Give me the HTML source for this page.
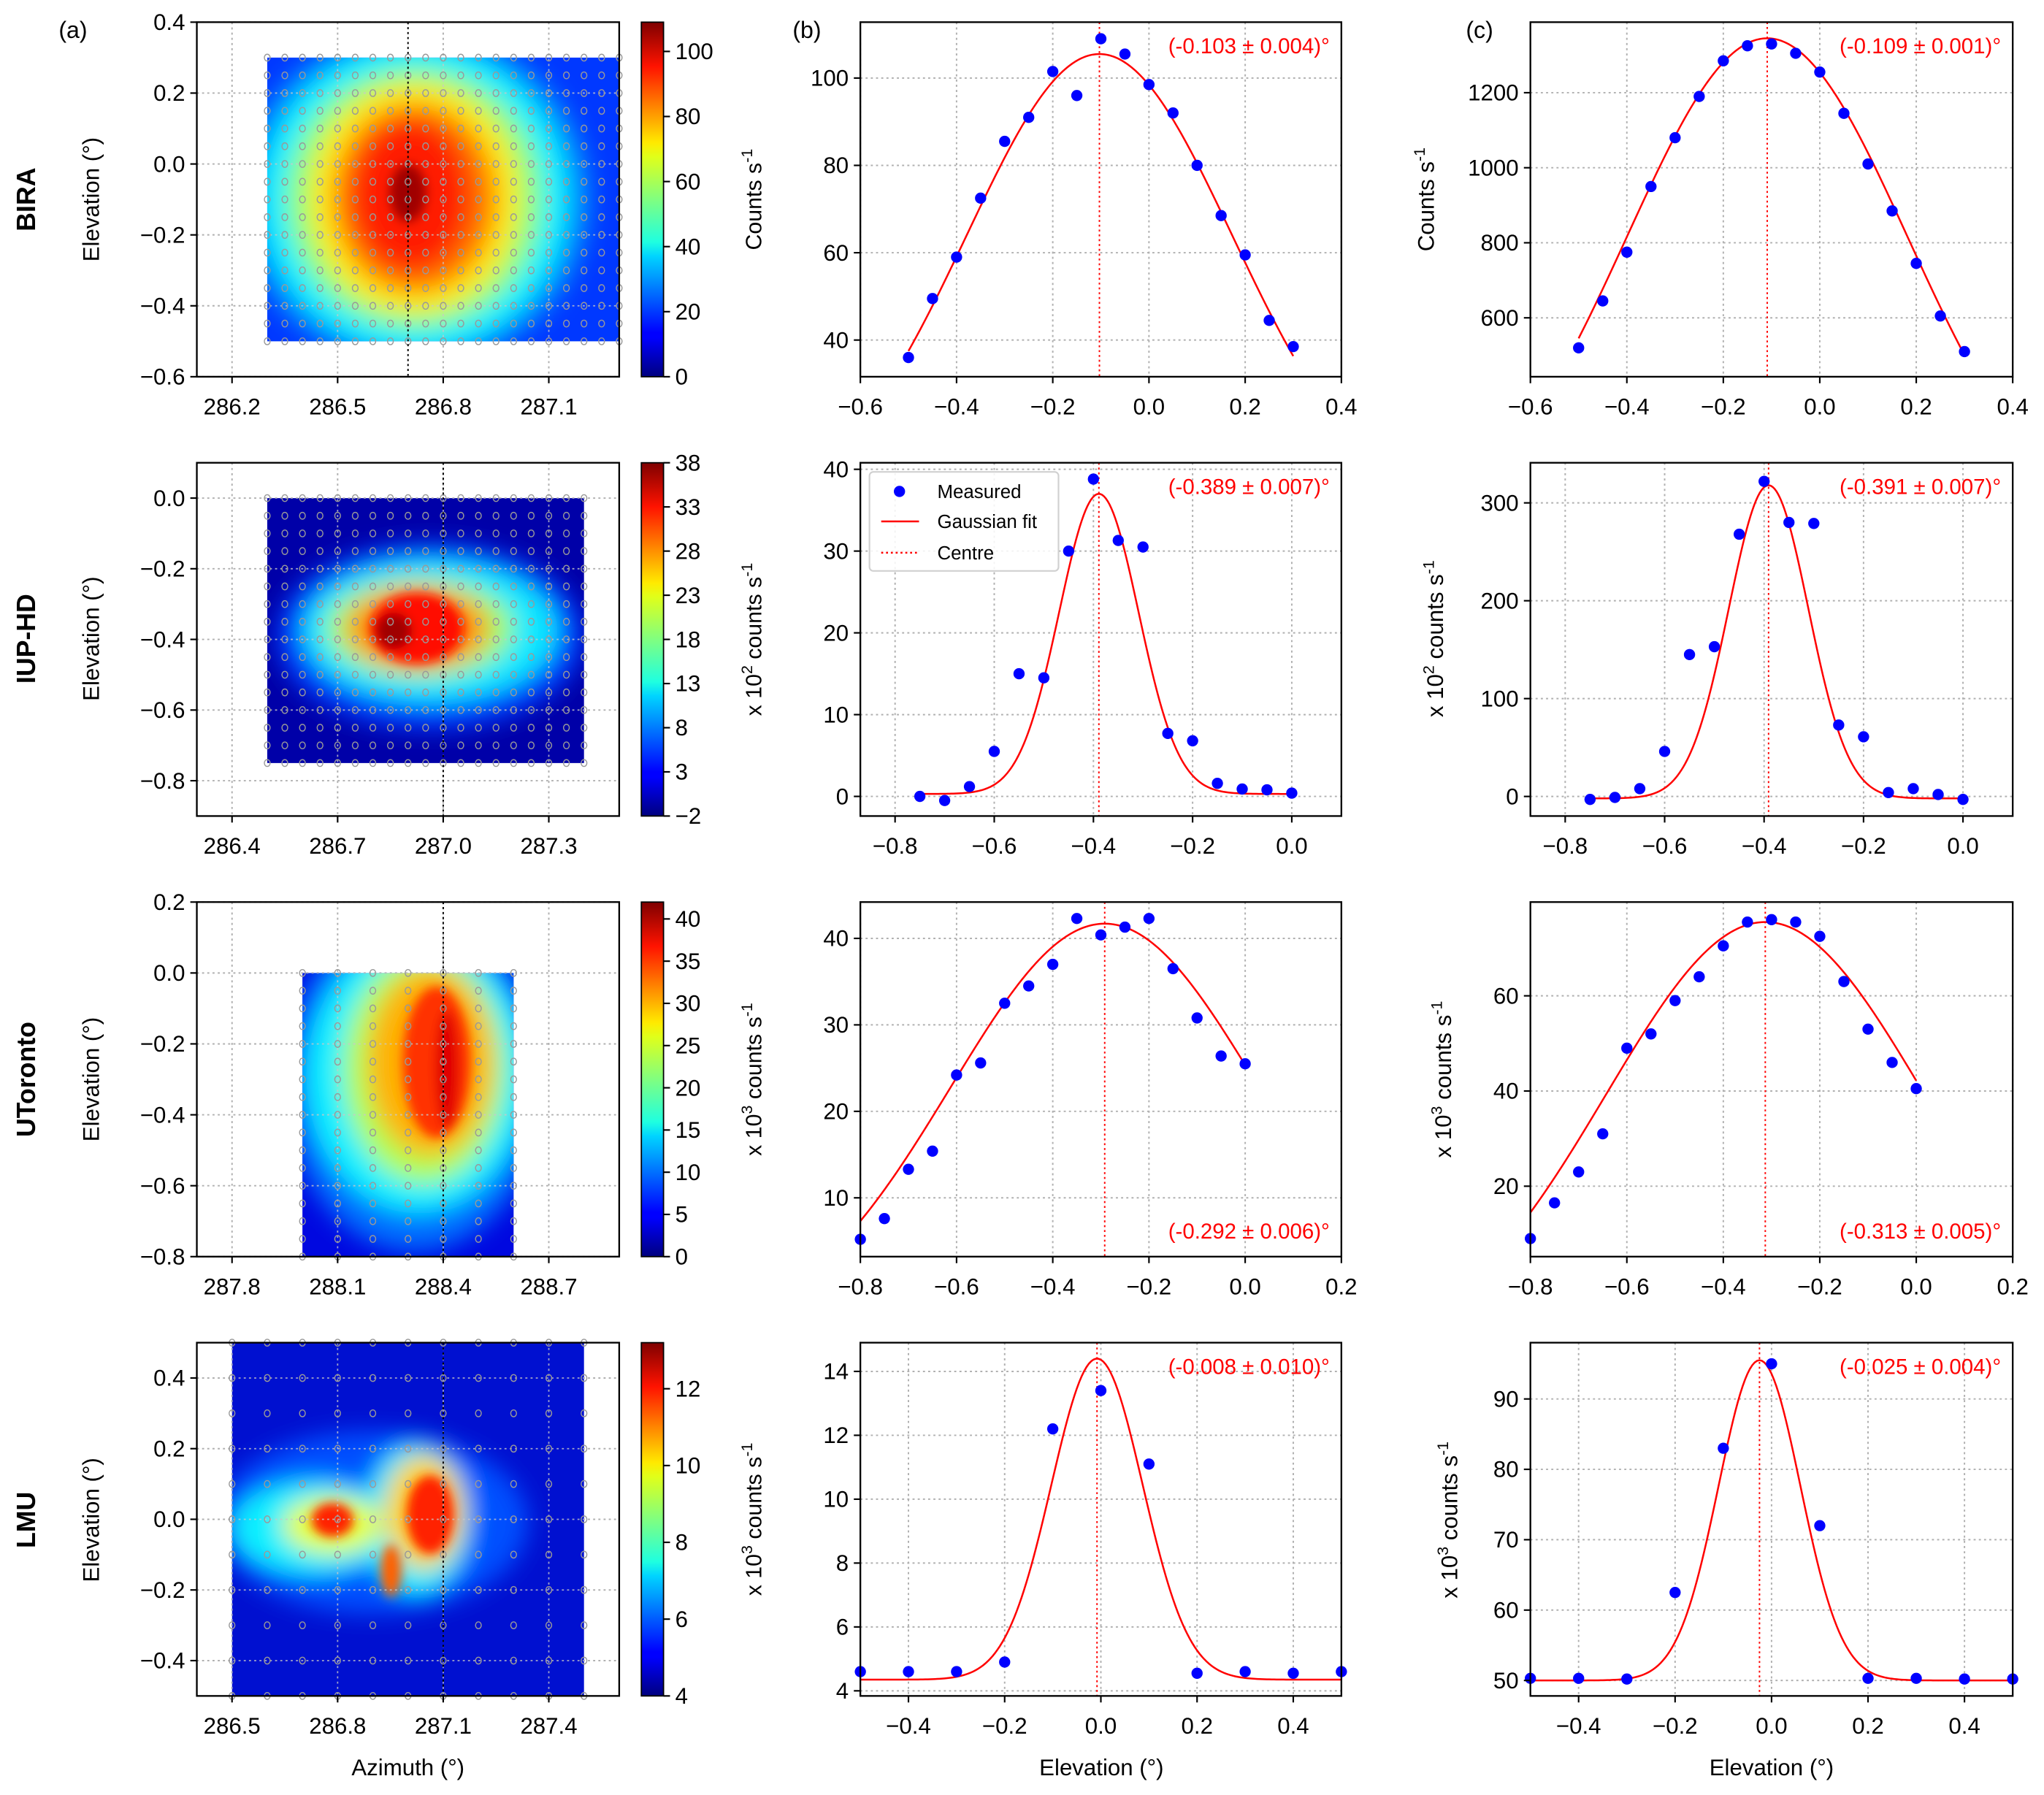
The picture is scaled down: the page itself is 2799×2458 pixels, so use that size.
<!DOCTYPE html>
<html><head><meta charset="utf-8">
<style>
html,body{margin:0;padding:0;background:#fff;}
svg{display:block;font-family:"Liberation Sans",Arial,sans-serif;}
</style></head>
<body>
<svg id="fig" width="2799" height="2458" viewBox="0 0 1568 1377" preserveAspectRatio="none" xmlns="http://www.w3.org/2000/svg">
<defs>
<linearGradient id="jet" x1="0" y1="1" x2="0" y2="0">
<stop offset="0" stop-color="#00007f"/><stop offset="0.11" stop-color="#0000ff"/>
<stop offset="0.125" stop-color="#0000ff"/><stop offset="0.34" stop-color="#00d4ff"/>
<stop offset="0.38" stop-color="#1fffe0"/><stop offset="0.5" stop-color="#80ff80"/>
<stop offset="0.62" stop-color="#e0ff1a"/><stop offset="0.66" stop-color="#ffea00"/>
<stop offset="0.875" stop-color="#ff1300"/><stop offset="1" stop-color="#7f0000"/>
</linearGradient>
<filter id="blur" x="-50%" y="-50%" width="200%" height="200%"><feGaussianBlur stdDeviation="9"/></filter>
<filter id="blur2" x="-50%" y="-50%" width="200%" height="200%"><feGaussianBlur stdDeviation="4"/></filter>
</defs>
</svg>
<script>
// ---------- data ----------
const b1X=[-0.5,-0.45,-0.4,-0.35,-0.3,-0.25,-0.2,-0.15,-0.1,-0.05,0,0.05,0.1,0.15,0.2,0.25,0.3];
const b1Y=[36,49.5,59,72.5,85.5,91,101.5,96,109,105.5,98.5,92,80,68.5,59.5,44.5,38.5];
const b1Fit=[105.5,-0.103,0.276,0];
const c1X=[-0.5,-0.45,-0.4,-0.35,-0.3,-0.25,-0.2,-0.15,-0.1,-0.05,0,0.05,0.1,0.15,0.2,0.25,0.3];
const c1Y=[520,645,775,950,1080,1190,1285,1325,1330,1305,1255,1145,1010,885,745,605,510];
const c1Fit=[1345,-0.109,0.291,0];
const b2X=[-0.75,-0.7,-0.65,-0.6,-0.55,-0.5,-0.45,-0.4,-0.35,-0.3,-0.25,-0.2,-0.15,-0.1,-0.05,0];
const b2Y=[0,-0.5,1.2,5.5,15,14.5,30,38.8,31.3,30.5,7.7,6.8,1.6,0.9,0.8,0.4];
const b2Fit=[36.7,-0.389,0.08,0.3];
const c2X=[-0.75,-0.7,-0.65,-0.6,-0.55,-0.5,-0.45,-0.4,-0.35,-0.3,-0.25,-0.2,-0.15,-0.1,-0.05,0];
const c2Y=[-3,-1,8,46,145,153,268,322,280,279,73,61,4,8,2,-3];
const c2Fit=[320,-0.391,0.08,-2];
const b3X=[-0.8,-0.75,-0.7,-0.65,-0.6,-0.55,-0.5,-0.45,-0.4,-0.35,-0.3,-0.25,-0.2,-0.15,-0.1,-0.05,0];
const b3Y=[5.2,7.6,13.3,15.4,24.2,25.6,32.5,34.5,37,42.3,40.4,41.3,42.3,36.5,30.8,26.4,25.5];
const b3Fit=[48,-0.292,0.32,-6.3];
const c3X=[-0.8,-0.75,-0.7,-0.65,-0.6,-0.55,-0.5,-0.45,-0.4,-0.35,-0.3,-0.25,-0.2,-0.15,-0.1,-0.05,0];
const c3Y=[9,16.5,23,31,49,52,59,64,70.5,75.5,76,75.5,72.5,63,53,46,40.5];
const c3Fit=[92,-0.313,0.33,-16.5];
const b4X=[-0.5,-0.4,-0.3,-0.2,-0.1,0,0.1,0.2,0.3,0.4,0.5];
const b4Y=[4.6,4.6,4.6,4.9,12.2,13.4,11.1,4.55,4.6,4.55,4.6];
const b4Fit=[10.05,-0.008,0.095,4.35];
const c4X=[-0.5,-0.4,-0.3,-0.2,-0.1,0,0.1,0.2,0.3,0.4,0.5];
const c4Y=[50.3,50.3,50.2,62.5,83,95,72,50.3,50.3,50.2,50.2];
const c4Fit=[45.5,-0.025,0.085,50];
const fitLabels=["(-0.103 ± 0.004)°","(-0.109 ± 0.001)°","(-0.389 ± 0.007)°","(-0.391 ± 0.007)°","(-0.292 ± 0.006)°","(-0.313 ± 0.005)°","(-0.008 ± 0.010)°","(-0.025 ± 0.004)°"];
const rowNames=["BIRA","IUP-HD","UToronto","LMU"];
const cbTicks1=[0,20,40,60,80,100];
const cbTicks2=[-2,3,8,13,18,23,28,33,38];
const cbTicks3=[0,5,10,15,20,25,30,35,40];
const cbTicks4=[4,6,8,10,12];

// ---------- helpers ----------
const NS='http://www.w3.org/2000/svg';
const svg=document.getElementById('fig');
function mk(tag,attrs,parent){const e=document.createElementNS(NS,tag);for(const k in attrs)e.setAttribute(k,attrs[k]);(parent||svg).appendChild(e);return e;}
function txt(s,x,y,size,anchor,parent,extra){const t=mk('text',Object.assign({x:x,y:y,'font-size':size,'text-anchor':anchor||'middle'},extra||{}),parent);t.textContent=s;return t;}
const ROWT=[17,355,692,1030], ROWB=[289,626,964,1301];
const COLA=[151,475], COLB=[660,1029], COLC=[1174,1544];
const FS=17.5;
function fmt(v,d){let s=v.toFixed(d);return s.replace('-','−');}

function axes(name,L,R,T,B,xmin,xmax,ymin,ymax,xt,yt,xd,yd){
  const g=mk('g',{});
  
  
  const sx=v=>L+(v-xmin)/(xmax-xmin)*(R-L);
  const sy=v=>B-(v-ymin)/(ymax-ymin)*(B-T);
  return {g,sx,sy,L,R,T,B,xt,yt,xd,yd};
}
function drawGrid(a){
  const gg=mk('g',{stroke:'#b0b0b0','stroke-width':1.1,'stroke-dasharray':'1.6,2.4'},a.g);
  
  
  a.xt.forEach(v=>mk('line',{x1:a.sx(v),x2:a.sx(v),y1:a.T,y2:a.B},gg));
  a.yt.forEach(v=>mk('line',{x1:a.L,x2:a.R,y1:a.sy(v),y2:a.sy(v)},gg));
}
function drawFrame(a){
  const f=mk('rect',{x:a.L,y:a.T,width:a.R-a.L,height:a.B-a.T,fill:'none',stroke:'#000','stroke-width':1.3},a.g);
  
  
  const xa=mk('g',{},a.g);
  
  
  a.xt.forEach(v=>{const x=a.sx(v);mk('line',{x1:x,x2:x,y1:a.B,y2:a.B+5,stroke:'#000','stroke-width':1.2},xa);
    txt(fmt(v,a.xd),x,a.B+29,FS,'middle',xa);});
  const ya=mk('g',{},a.g);
  
  
  a.yt.forEach(v=>{const y=a.sy(v);mk('line',{x1:a.L-5,x2:a.L,y1:y,y2:y,stroke:'#000','stroke-width':1.2},ya);
    txt(fmt(v,a.yd),a.L-9,y+6,FS,'end',ya);});
}
function lineCol(name,L,R,row,xmin,xmax,ymin,ymax,xt,yt,yd,X,Y,fit,label,labelBottom){
  const a=axes(name,L,R,ROWT[row],ROWB[row],xmin,xmax,ymin,ymax,xt,yt,1,yd);
  drawGrid(a);
  const c=mk('line',{x1:a.sx(fit[1]),x2:a.sx(fit[1]),y1:a.T,y2:a.B,stroke:'#f00','stroke-width':1.1,'stroke-dasharray':'1.5,2.2'},a.g);
  
  
  let d='';const x0=X[0],x1=X[X.length-1];
  for(let i=0;i<=200;i++){const x=x0+(x1-x0)*i/200;const y=fit[0]*Math.exp(-Math.pow(x-fit[1],2)/(2*fit[2]*fit[2]))+fit[3];d+=(i?'L':'M')+a.sx(x).toFixed(2)+','+a.sy(y).toFixed(2);}
  const p=mk('path',{d:d,fill:'none',stroke:'#f00','stroke-width':1.4},a.g);
  
  
  const pts=mk('g',{fill:'#0000ff'},a.g);
  
  
  X.forEach((x,i)=>{const pt=mk('circle',{cx:a.sx(x),cy:a.sy(Y[i]),r:4.3},pts);
    
    });
  drawFrame(a);
  const t=txt(label,a.R-9,labelBottom?a.B-14:a.T+24,16.5,'end',a.g,{fill:'#f00'});
  
  
  return a;
}

const tx1=[-0.6,-0.4,-0.2,0,0.2,0.4], tx2=[-0.8,-0.6,-0.4,-0.2,0], tx3=[-0.8,-0.6,-0.4,-0.2,0,0.2], tx4=[-0.4,-0.2,0,0.2,0.4];
lineCol('panel-b-bira',COLB[0],COLB[1],0,-0.6,0.4,31.6,112.8,tx1,[40,60,80,100],0,b1X,b1Y,b1Fit,fitLabels[0],false);
lineCol('panel-c-bira',COLC[0],COLC[1],0,-0.6,0.4,443,1388,tx1,[600,800,1000,1200],0,c1X,c1Y,c1Fit,fitLabels[1],false);
lineCol('panel-b-iuphd',COLB[0],COLB[1],1,-0.87,0.1,-2.4,40.8,tx2,[0,10,20,30,40],0,b2X,b2Y,b2Fit,fitLabels[2],false);
lineCol('panel-c-iuphd',COLC[0],COLC[1],1,-0.87,0.1,-20,341,tx2,[0,100,200,300],0,c2X,c2Y,c2Fit,fitLabels[3],false);
lineCol('panel-b-utoronto',COLB[0],COLB[1],2,-0.8,0.2,3.2,44.2,tx3,[10,20,30,40],0,b3X,b3Y,b3Fit,fitLabels[4],true);
lineCol('panel-c-utoronto',COLC[0],COLC[1],2,-0.8,0.2,5.2,79.7,tx3,[20,40,60],0,c3X,c3Y,c3Fit,fitLabels[5],true);
lineCol('panel-b-lmu',COLB[0],COLB[1],3,-0.5,0.5,3.84,14.9,tx4,[4,6,8,10,12,14],0,b4X,b4Y,b4Fit,fitLabels[6],false);
lineCol('panel-c-lmu',COLC[0],COLC[1],3,-0.5,0.5,47.8,98,tx4,[50,60,70,80,90],0,c4X,c4Y,c4Fit,fitLabels[7],false);

const lg=mk('g',{});


mk('rect',{x:667,y:362,width:145,height:76,rx:3,fill:'#fff','fill-opacity':0.85,stroke:'#d0d0d0','stroke-width':1.2},lg);
mk('circle',{cx:690,cy:377,r:4.3,fill:'#0000ff'},lg);
txt('Measured',719,382,14.5,'start',lg);
mk('line',{x1:676,x2:705,y1:400,y2:400,stroke:'#f00','stroke-width':1.4},lg);
txt('Gaussian fit',719,405,14.5,'start',lg);
mk('line',{x1:676,x2:705,y1:424,y2:424,stroke:'#f00','stroke-width':1.4,'stroke-dasharray':'1.5,2.2'},lg);
txt('Centre',719,429,14.5,'start',lg);

function heat(name,row,xmin,xt,yr,yt,rect,bg,blobs,sharp,line,gridX,gridY,cbTicks,cbMin,cbMax,cbLabel){
  const a=axes(name,COLA[0],COLA[1],ROWT[row],ROWB[row],xmin,xmin+1.2,yr[0],yr[1],xt,yt,1,1);
  drawGrid(a);
  const cid='clip'+row;
  const cp=mk('clipPath',{id:cid},a.g);
  mk('rect',{x:a.sx(rect[0]),y:a.sy(rect[3]),width:a.sx(rect[1])-a.sx(rect[0]),height:a.sy(rect[2])-a.sy(rect[3])},cp);
  const hm=mk('g',{'clip-path':'url(#'+cid+')'},a.g);
  
  
  mk('rect',{x:a.L,y:a.T,width:a.R-a.L,height:a.B-a.T,fill:bg},hm);
  const bl=mk('g',{filter:'url(#blur)'},hm);
  blobs.forEach(b=>mk('ellipse',{cx:b[0],cy:b[1],rx:b[2],ry:b[3],fill:b[4]},bl));
  const bl2=mk('g',{filter:'url(#blur2)'},hm);
  sharp.forEach(b=>mk('ellipse',{cx:b[0],cy:b[1],rx:b[2],ry:b[3],fill:b[4]},bl2));
  const g2=mk('g',{stroke:'#c8c8c8','stroke-width':1,'stroke-dasharray':'1.6,2.4','stroke-opacity':0.8},hm);
  xt.forEach(v=>mk('line',{x1:a.sx(v),x2:a.sx(v),y1:a.T,y2:a.B},g2));
  yt.forEach(v=>mk('line',{x1:a.L,x2:a.R,y1:a.sy(v),y2:a.sy(v)},g2));
  const sm=mk('g',{fill:'none',stroke:'#999','stroke-width':0.8},a.g);
  
  
  gridX.forEach(x=>gridY.forEach(y=>mk('ellipse',{cx:a.sx(x),cy:a.sy(y),rx:2.2,ry:2.6},sm)));
  const vl=mk('line',{x1:a.sx(line),x2:a.sx(line),y1:a.T,y2:a.B,stroke:'#000','stroke-width':1.1,'stroke-dasharray':'1.6,2.2'},a.g);
  
  
  drawFrame(a);
  const cb=mk('g',{},a.g);
  
  
  const T=a.T,B=a.B;
  mk('rect',{x:492,y:T,width:17,height:B-T,fill:'url(#jet)',stroke:'#000','stroke-width':1},cb);
  cbTicks.forEach(v=>{const y=B-(v-cbMin)/(cbMax-cbMin)*(B-T);mk('line',{x1:509,x2:514,y1:y,y2:y,stroke:'#000','stroke-width':1.2},cb);txt(fmt(v,0),518,y+6,FS,'start',cb);});
  const lab=mk('text',{transform:'translate(584,'+((T+B)/2)+') rotate(-90)','font-size':17,'text-anchor':'middle'},cb);
  
  
  lab.innerHTML=cbLabel;
  return a;
}
function range(a,b,s){const r=[];for(let v=a;v<=b+1e-9;v+=s)r.push(+v.toFixed(3));return r;}
const cbl1='Counts s<tspan dy="-7" font-size="12">-1</tspan>';
const cbl2='x 10<tspan dy="-7" font-size="12">2</tspan><tspan dy="7"> counts s</tspan><tspan dy="-7" font-size="12">-1</tspan>';
const cbl3='x 10<tspan dy="-7" font-size="12">3</tspan><tspan dy="7"> counts s</tspan><tspan dy="-7" font-size="12">-1</tspan>';

heat('panel-a-bira',0,286.1,[286.2,286.5,286.8,287.1],[-0.6,0.4],[-0.6,-0.4,-0.2,0,0.2,0.4],[286.3,287.3,-0.5,0.3],'#0038ff',
 [[318,152,135,130,'#0090ff'],[318,152,118,118,'#00f0ff'],[318,152,98,100,'#90ff70'],[318,152,80,88,'#ffe800'],[318,152,62,72,'#ff7000'],[315,150,45,58,'#ff1a00']],
 [[313,148,14,22,'#a00000']],
 286.7,range(286.3,287.3,0.05),range(-0.5,0.3,0.05),cbTicks1,0,109,cbl1);
heat('panel-a-iuphd',1,286.3,[286.4,286.7,287.0,287.3],[-0.9,0.1],[-0.8,-0.6,-0.4,-0.2,0],[286.5,287.4,-0.75,0],'#0000a8',
 [[330,488,118,72,'#0040ff'],[330,484,98,55,'#10e8ff'],[322,482,72,38,'#a0ff60'],[320,482,55,32,'#ff9000']],
 [[320,482,36,27,'#ff1000'],[302,484,14,14,'#a00000']],
 287.0,range(286.5,287.4,0.05),range(-0.75,0,0.05),cbTicks2,-2,38,cbl2);
heat('panel-a-utoronto',2,287.7,[287.8,288.1,288.4,288.7],[-0.8,0.2],[-0.8,-0.6,-0.4,-0.2,0,0.2],[288.0,288.6,-0.8,0],'#0008e0',
 [[318,830,100,130,'#0070ff'],[320,825,85,105,'#10f0ff'],[325,820,62,88,'#b0ff50'],[330,815,48,72,'#ffb000']],
 [[335,815,26,58,'#ff3000'],[343,820,9,45,'#e00000']],
 288.4,range(288.0,288.6,0.1),range(-0.8,0,0.05),cbTicks3,0,42,cbl3);
heat('panel-a-lmu',3,286.4,[286.5,286.8,287.1,287.4],[-0.5,0.5],[-0.4,-0.2,0,0.2,0.4],[286.5,287.5,-0.5,0.5],'#0010d0',
 [[285,1168,120,70,'#0050ff'],[240,1172,62,36,'#10f0ff'],[320,1165,40,58,'#10f0ff'],[255,1170,38,22,'#e8ff20'],[325,1160,30,44,'#ffd000']],
 [[255,1166,16,13,'#ff2000'],[330,1162,18,30,'#ff2000'],[300,1205,8,20,'#ff6000']],
 287.1,range(286.5,287.5,0.1),range(-0.5,0.5,0.1),cbTicks4,4,13.2,cbl3);

const labs=mk('g',{});


txt('(a)',56,29,18,'middle',labs);
txt('(b)',619,29,18,'middle',labs);
txt('(c)',1135,29,18,'middle',labs);
const rowMid=[153,490,828,1166];
rowNames.forEach((n,i)=>{const t=mk('text',{transform:'translate(27,'+rowMid[i]+') rotate(-90)','font-size':20,'font-weight':'bold','text-anchor':'middle'},labs);t.textContent=n;
  const e=mk('text',{transform:'translate(76,'+rowMid[i]+') rotate(-90)','font-size':17.5,'text-anchor':'middle'},labs);e.textContent='Elevation (°)';});
const cyl=['Counts s<tspan dy="-7" font-size="12">-1</tspan>',cbl2,cbl3,cbl3];
const cx=[1100,1107,1113,1118];
cyl.forEach((s,i)=>{const t=mk('text',{transform:'translate('+cx[i]+','+rowMid[i]+') rotate(-90)','font-size':17.5,'text-anchor':'middle'},labs);t.innerHTML=s;});
txt('Azimuth (°)',313,1362,17.5,'middle',labs);
txt('Elevation (°)',845,1362,17.5,'middle',labs);
txt('Elevation (°)',1359,1362,17.5,'middle',labs);
</script>
</body></html>
